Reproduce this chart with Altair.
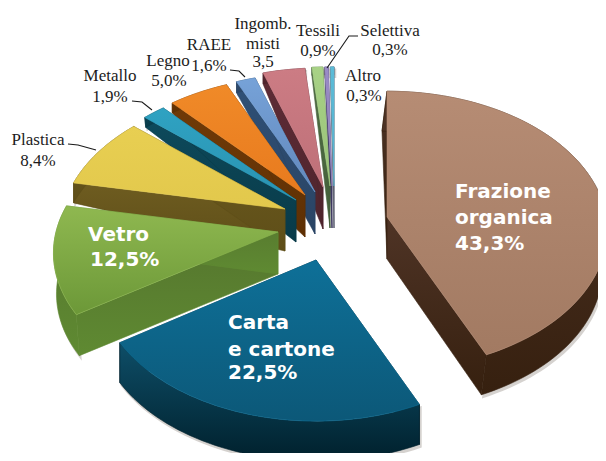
import math
import altair as alt
import pandas as pd

# ---------- data ----------
names = ["Frazione organica", "Carta e cartone", "Vetro", "Plastica", "Metallo", "Legno",
         "RAEE", "Ingombranti misti", "Tessili", "Selettiva", "Altro"]
shares = [43.3, 22.5, 12.5, 8.4, 1.9, 5.0, 1.6, 3.5, 0.9, 0.3, 0.3]

# ---------- per-slice style / layout ----------
apex_x = [387, 316, 278, 285, 296, 305, 315, 323, 330, 332, 334]
apex_y = [217, 260, 232, 209, 200, 195, 192, 187, 186, 186, 186]
rx_by_slice = [219, 216, 222, 222, 222, 222, 222, 222, 222, 222, 222]
ry_by_slice = [138, 137, 137, 137, 137, 137, 137, 137, 137, 137, 137]
persp_by_slice = [0.097, 0.15, 0.15, 0.15, 0.15, 0.15, 0.15, 0.15, 0.15, 0.15, 0.15]
rim_depth = [40, 40, 41, 20, 10, 10, 11, 11, 8, 8, 8]
wall_lean = [-5, 0, 3, 0, 1, 0, 0, 0, 0, 0, 0]
top_colors = [("#B68C74", "#A27A62"), ("#0E7098", "#0C5878"), ("#8FB850", "#6C9838"),
              ("#E8CF52", "#E2C84C"), ("#2FA2C2", "#2A93B2"), ("#F08A28", "#E87A1E"),
              ("#76A2D8", "#6288BC"), ("#CC7C84", "#BE7078"), ("#A8D286", "#98C278"),
              ("#9A8CC6", "#8A7CB6"), ("#5CBCD8", "#50AECA")]
wall_colors = [("#4F3426", "#36200F"), ("#0E4E68", "#00202C"), ("#55752E", "#5F8A32"),
               ("#6E5C20", "#5E4E18"), ("#0E4A5C", "#083A48"), ("#703A08", "#5E3004"),
               ("#2F5076", "#2A4464"), ("#5E2C36", "#4E242C"), ("#4F6E44", "#44603A"),
               ("#474370", "#3C3860"), ("#6A7080", "#5A6070")]

APEX_DEPTH = 42

W, H = 590, 445
sx = alt.Scale(domain=[8, 8 + W], nice=False, zero=False)
sy = alt.Scale(domain=[8, 8 + H], nice=False, zero=False, reverse=True)
X = alt.X("x:Q", scale=sx, axis=None)
Y = alt.Y("y:Q", scale=sy, axis=None)


def pt(i, ang, r=1.0):
    u, v = math.sin(ang) * r, math.cos(ang) * r
    f = 1 / (1 + persp_by_slice[i] * v)
    return apex_x[i] + rx_by_slice[i] * u * f, apex_y[i] - ry_by_slice[i] * v * f


def grad(pair):
    return {"gradient": "linear", "x1": 0, "x2": 0, "y1": 0, "y2": 1,
            "stops": [{"offset": 0, "color": pair[0]}, {"offset": 1, "color": pair[1]}]}


def poly(points, pair, stroke=None, sw=0.6, opacity=1.0):
    df = pd.DataFrame({"x": [p[0] for p in points], "y": [p[1] for p in points],
                       "k": list(range(len(points)))})
    return alt.Chart(df).mark_line(interpolate="linear-closed", fill=grad(pair), clip=True,
                                   stroke=stroke or pair[1], strokeWidth=sw,
                                   opacity=opacity).encode(x=X, y=Y, order="k:Q")


total = sum(shares)
edges = [0.0]
for s in shares:
    edges.append(edges[-1] + s / total * 2 * math.pi)

layers = []
for i in range(len(shares) - 1, -1, -1):
    a0, a1 = edges[i], edges[i + 1]
    n = max(2, int((a1 - a0) / 0.03))
    arc = [pt(i, a0 + (a1 - a0) * j / n) for j in range(n + 1)]
    ap = (apex_x[i], apex_y[i])
    d = rim_depth[i]
    low = lambda p: (p[0] + wall_lean[i], p[1] + d)
    ap_low = (ap[0], ap[1] + APEX_DEPTH)
    wall = wall_colors[i]
    # soft shadow under the rim
    layers.append(poly([(p[0] + 1.5, p[1] + 2.5) for p in arc + [low(q) for q in reversed(arc)]],
                       ("#8a8078", "#8a8078"), sw=1.5, opacity=0.35))
    # radial walls
    layers.append(poly([ap, arc[0], low(arc[0]), ap_low], wall))
    layers.append(poly([ap, arc[-1], low(arc[-1]), ap_low], wall))
    # rim
    layers.append(poly(arc + [low(p) for p in reversed(arc)], wall))
    # top face
    c = top_colors[i]
    layers.append(poly([ap] + arc, c, stroke=c[0]))

# ---------- leaders ----------
leaders = [[(68, 144), (78, 145), (96, 150)],
           [(132, 101), (142, 102), (152, 110)],
           [(230, 70), (239, 71), (245, 77)],
           [(358, 36), (349, 36), (327, 68)]]
for ld in leaders:
    df = pd.DataFrame({"x": [p[0] for p in ld], "y": [p[1] for p in ld], "k": range(len(ld))})
    layers.append(alt.Chart(df).mark_line(color="#1a1a1a", strokeWidth=1.1).encode(x=X, y=Y, order="k:Q"))

# ---------- labels ----------
label_text = ["Plastica", "8,4%", "Metallo", "1,9%", "Legno", "5,0%", "RAEE", "1,6%",
              "Ingomb.", "misti", "3,5", "Tessili", "0,9%", "Selettiva", "0,3%", "Altro", "0,3%"]
label_x = [38, 38, 110, 110, 168, 169, 209, 209, 263, 263, 263, 318, 318, 390, 390, 363, 364]
label_y = [140, 161, 76, 97, 61, 81, 45, 66, 24, 44, 62, 31, 51, 31, 50, 76, 96]
layers.append(alt.Chart(pd.DataFrame({"t": label_text, "x": label_x, "y": label_y})).mark_text(
    font="Liberation Serif", fontSize=17, color="#1c1c1c", align="center", baseline="middle").encode(
    x=X, y=Y, text="t:N"))

big_text = ["Frazione", "organica", "43,3%", "Carta", "e cartone", "22,5%", "Vetro", "12,5%"]
big_x = [455, 455, 455, 228, 228, 228, 88, 90]
big_y = [192, 218, 244, 323, 350, 373, 235, 260]
layers.append(alt.Chart(pd.DataFrame({"t": big_text, "x": big_x, "y": big_y})).mark_text(
    font="DejaVu Sans", fontSize=20, fontWeight="bold", color="white", align="left", baseline="middle").encode(
    x=X, y=Y, text="t:N"))

chart = alt.layer(*layers).properties(width=W, height=H, padding=0,
                                      autosize=alt.AutoSizeParams(type="none"),
                                      background="white").configure_view(stroke=None)
chart.save("out.html", embed_options={"renderer": "svg", "actions": False})
